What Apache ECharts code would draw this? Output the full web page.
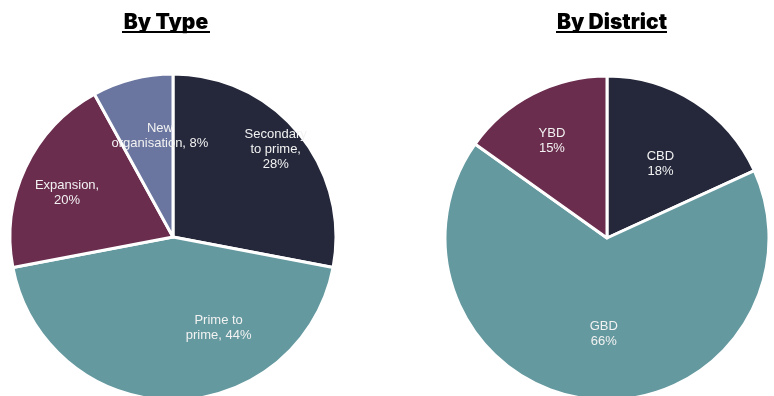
<!DOCTYPE html>
<html><head><meta charset="utf-8">
<script src="https://cdn.jsdelivr.net/npm/echarts@6/dist/echarts.min.js"></script>
<style>html,body{margin:0;padding:0;background:#fff}#c{width:774px;height:396px}</style>
</head><body><div id="c"></div>
<script>
var typeNames = ['Secondary\nto prime,\n28%', 'Prime to\nprime, 44%', 'Expansion,\n20%', 'New\norganisation, 8%'];
var typeValues = [28, 44, 20, 8];
var districtNames = ['CBD\n18%', 'GBD\n66%', 'YBD\n15%'];
var districtValues = [18, 66, 15];
var typeColors = ['#25283b', '#64999f', '#6b2d4e', '#6a76a0'];
var districtColors = ['#25283b', '#64999f', '#6b2d4e'];

// label anchor offsets relative to pie center, in fraction of radius
var typeLabelPos = [[0.63, -0.54], [0.28, 0.56], [-0.65, -0.27], [-0.08, -0.62]];
var districtLabelPos = [[0.33, -0.46], [-0.02, 0.59], [-0.34, -0.60]];

var chart = echarts.init(document.getElementById('c'));
function mk(names, values, colors, center, radius, pos) {
  return {
    type: 'pie', center: center, radius: radius, startAngle: 90, clockwise: true,
    silent: true,
    data: names.map(function (n, i) { return { name: n, value: values[i], itemStyle: { color: colors[i] } }; }),
    itemStyle: { borderColor: '#fff', borderWidth: 3 },
    label: { show: true, position: 'inside', formatter: '{b}', color: '#f2f2f2', fontFamily: 'Liberation Sans, Arial', fontSize: 13, lineHeight: 15, align: 'center' },
    labelLine: { show: false },
    labelLayout: function (p) {
      var o = pos[p.dataIndex];
      return { x: center[0] + o[0] * radius, y: center[1] + o[1] * radius, align: 'center', verticalAlign: 'middle' };
    }
  };
}
var titleStyle = { fontFamily: 'Inter', fontWeight: 900, fontSize: 21, color: '#000' };
chart.setOption({
  animation: false,
  title: [
    { text: 'By Type', left: 161, top: 7, textAlign: 'center', textStyle: titleStyle },
    { text: 'By District', left: 607, top: 7, textAlign: 'center', textStyle: titleStyle }
  ],
  graphic: [
    { type: 'rect', shape: { x: 122, y: 31, width: 88, height: 2 }, style: { fill: '#000' } },
    { type: 'rect', shape: { x: 556, y: 31, width: 111, height: 2 }, style: { fill: '#000' } }
  ],
  series: [
    mk(typeNames, typeValues, typeColors, [173, 237], 163, typeLabelPos),
    mk(districtNames, districtValues, districtColors, [607, 238], 162, districtLabelPos)
  ]
});
</script></body></html>
